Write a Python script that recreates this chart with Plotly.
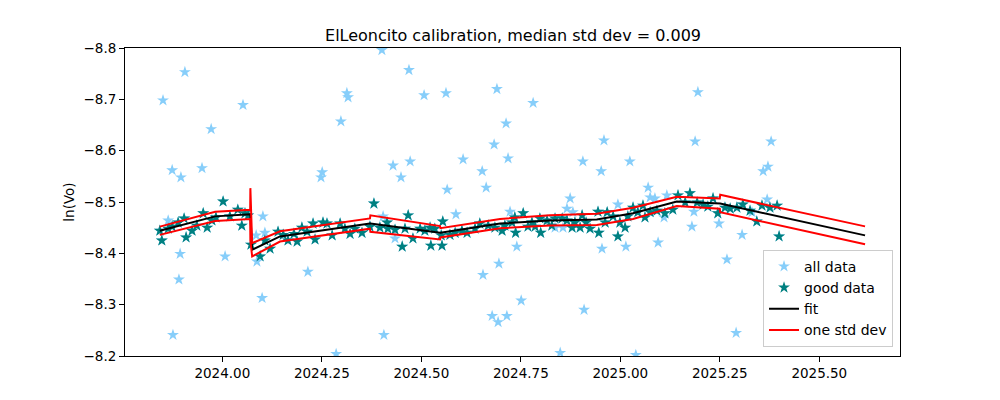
import plotly.graph_objects as go

# ---------------- data ----------------
good_t = [2023.843, 2023.848, 2023.864, 2023.874, 2023.889, 2023.904, 2023.909, 2023.924, 2023.936, 2023.952,
          2023.962, 2023.974, 2023.984, 2024.002, 2024.019, 2024.039, 2024.049, 2024.057, 2024.065, 2024.072,
          2024.095, 2024.107, 2024.120, 2024.140, 2024.153, 2024.165, 2024.180, 2024.188, 2024.200, 2024.213,
          2024.228, 2024.233, 2024.253, 2024.263, 2024.276, 2024.296, 2024.308, 2024.321, 2024.333, 2024.351,
          2024.371, 2024.381, 2024.396, 2024.414, 2024.416, 2024.434, 2024.452, 2024.459, 2024.467, 2024.479,
          2024.497, 2024.509, 2024.522, 2024.534, 2024.524, 2024.552, 2024.554, 2024.550, 2024.572, 2024.585,
          2024.602, 2024.615, 2024.635, 2024.647, 2024.668, 2024.685, 2024.703, 2024.710, 2024.728, 2024.735,
          2024.737, 2024.756, 2024.768, 2024.778, 2024.786, 2024.798, 2024.800, 2024.816, 2024.828, 2024.836,
          2024.854, 2024.866, 2024.879, 2024.886, 2024.899, 2024.904, 2024.914, 2024.924, 2024.944, 2024.946,
          2024.962, 2024.967, 2024.982, 2024.994, 2024.999, 2025.012, 2025.019, 2025.032, 2025.044, 2025.057,
          2025.062, 2025.075, 2025.092, 2025.112, 2025.132, 2025.145, 2025.163, 2025.175, 2025.193, 2025.208,
          2025.220, 2025.233, 2025.245, 2025.263, 2025.276, 2025.293, 2025.308, 2025.326, 2025.343, 2025.356,
          2025.376, 2025.394, 2025.399]
good_v = [-8.444, -8.425, -8.448, -8.452, -8.460, -8.468, -8.431, -8.444, -8.454, -8.478,
          -8.450, -8.464, -8.470, -8.501, -8.472, -8.485, -8.454, -8.478, -8.474, -8.417,
          -8.394, -8.425, -8.409, -8.442, -8.436, -8.425, -8.438, -8.423, -8.450, -8.442,
          -8.458, -8.427, -8.460, -8.458, -8.435, -8.458, -8.448, -8.438, -8.448, -8.440,
          -8.452, -8.497, -8.450, -8.460, -8.448, -8.446, -8.413, -8.448, -8.474, -8.429,
          -8.448, -8.444, -8.450, -8.448, -8.415, -8.415, -8.462, -8.435, -8.436, -8.440,
          -8.444, -8.440, -8.448, -8.458, -8.454, -8.450, -8.444, -8.454, -8.460, -8.470,
          -8.440, -8.478, -8.452, -8.460, -8.452, -8.468, -8.440, -8.464, -8.454, -8.468,
          -8.468, -8.464, -8.450, -8.460, -8.450, -8.474, -8.460, -8.448, -8.481, -8.440,
          -8.460, -8.480, -8.472, -8.433, -8.460, -8.450, -8.472, -8.489, -8.480, -8.493,
          -8.470, -8.480, -8.483, -8.478, -8.485, -8.513, -8.499, -8.517, -8.499, -8.495,
          -8.491, -8.507, -8.478, -8.489, -8.487, -8.489, -8.495, -8.483, -8.462, -8.493,
          -8.489, -8.493, -8.433]

outlier_t = [2023.851, 2023.906, 2024.052, 2023.972, 2024.401, 2024.469, 2024.313, 2024.316, 2024.507, 2024.562,
             2024.690, 2024.781, 2024.713, 2024.683, 2024.959, 2025.188, 2025.195, 2025.379, 2025.371, 2025.359,
             2025.369, 2024.298, 2023.874, 2023.896, 2023.949, 2024.248, 2024.251, 2024.429, 2024.472, 2024.449,
             2024.605, 2024.718, 2024.653, 2024.565, 2024.663, 2024.906, 2024.952, 2025.024, 2024.874, 2025.070,
             2025.075, 2025.087, 2025.117, 2023.864, 2023.894, 2023.891, 2023.876, 2024.007, 2024.102, 2024.085,
             2024.107, 2024.087, 2024.100, 2024.215, 2024.286, 2024.404, 2024.434, 2024.406, 2024.587, 2024.723,
             2024.740, 2024.695, 2024.655, 2024.751, 2024.678, 2024.693, 2024.715, 2024.849, 2024.909, 2025.039,
             2024.954, 2025.014, 2025.095, 2025.180, 2025.248, 2025.306, 2025.268, 2025.291, 2025.331, 2025.185,
             2025.110, 2024.866, 2024.881, 2024.836, 2024.856, 2024.994]
outlier_v = [-8.698, -8.753, -8.689, -8.642, -8.796, -8.757, -8.712, -8.704, -8.708, -8.712,
             -8.720, -8.693, -8.653, -8.612, -8.620, -8.618, -8.714, -8.618, -8.569, -8.560,
             -8.505, -8.657, -8.562, -8.548, -8.566, -8.548, -8.558, -8.571, -8.579, -8.548,
             -8.583, -8.585, -8.560, -8.524, -8.528, -8.579, -8.560, -8.579, -8.507, -8.528,
             -8.509, -8.507, -8.513, -8.464, -8.399, -8.349, -8.241, -8.394, -8.472, -8.435,
             -8.440, -8.384, -8.313, -8.364, -8.204, -8.472, -8.429, -8.241, -8.476, -8.481,
             -8.413, -8.380, -8.358, -8.308, -8.278, -8.266, -8.278, -8.206, -8.290, -8.202,
             -8.409, -8.413, -8.421, -8.452, -8.458, -8.436, -8.388, -8.245, -8.480, -8.481,
             -8.470, -8.487, -8.480, -8.450, -8.450, -8.495]

fit_t = [2023.843, 2023.982, 2024.070, 2024.0705, 2024.075, 2024.145, 2024.371, 2024.372, 2024.547, 2024.548,
         2024.698, 2024.823, 2024.941, 2025.032, 2025.142, 2025.250, 2025.251, 2025.615]
fit_v = [-8.444, -8.472, -8.476, -8.476, -8.407, -8.433, -8.458, -8.458, -8.440, -8.440,
         -8.458, -8.464, -8.466, -8.478, -8.501, -8.497, -8.497, -8.435]
fit_sd = [0.008, 0.009, 0.009, 0.051, 0.013, 0.010, 0.010, 0.016, 0.013, 0.009,
          0.009, 0.010, 0.011, 0.011, 0.009, 0.010, 0.017, 0.0175]

title_text = "ElLeoncito calibration, median std dev = 0.009"
x_ticks = [2024.00, 2024.25, 2024.50, 2024.75, 2025.00, 2025.25, 2025.50]
y_ticks = [-8.8, -8.7, -8.6, -8.5, -8.4, -8.3, -8.2]

# ---------------- figure ----------------
all_t = good_t + outlier_t
all_v = good_v + outlier_v
upper = [v + s for v, s in zip(fit_v, fit_sd)]
lower = [v - s for v, s in zip(fit_v, fit_sd)]

font = "DejaVu Sans"
fig = go.Figure()
fig.add_trace(go.Scatter(x=all_t, y=all_v, mode="markers", name="all data",
                         marker=dict(symbol="star", size=9, color="#87CEFA", line=dict(width=0))))
fig.add_trace(go.Scatter(x=good_t, y=good_v, mode="markers", name="good data",
                         marker=dict(symbol="star", size=9, color="#008080", line=dict(width=0))))
fig.add_trace(go.Scatter(x=fit_t, y=fit_v, mode="lines", name="fit",
                         line=dict(color="black", width=2)))
fig.add_trace(go.Scatter(x=fit_t + [None] + fit_t, y=upper + [None] + lower, mode="lines",
                         name="one std dev", line=dict(color="red", width=2), connectgaps=False))

fig.update_layout(
    width=1000, height=400,
    margin=dict(l=117, r=108, t=40, b=52),
    paper_bgcolor="white", plot_bgcolor="white",
    font=dict(family=font, size=13.5, color="black"),
    title=dict(text=title_text, x=0.505, xanchor="center", y=1 - 27 / 400, yanchor="middle",
               font=dict(family=font, size=16, color="black")),
    showlegend=True,
    legend=dict(x=0.991, y=0.03, xanchor="right", yanchor="bottom",
                bgcolor="rgba(255,255,255,0.8)", bordercolor="#cccccc", borderwidth=1,
                font=dict(family=font, size=14), tracegroupgap=0),
)
fig.update_xaxes(range=[2023.7555, 2025.7028], tickvals=x_ticks,
                 ticktext=[f"{v:.2f}" for v in x_ticks],
                 showgrid=False, zeroline=False, showline=True, linecolor="black", linewidth=1,
                 mirror=True, ticks="outside", ticklen=5, tickcolor="black",
                 tickfont=dict(family=font, size=13.5))
fig.update_yaxes(range=[-8.2, -8.8], tickvals=y_ticks,
                 ticktext=[f"{v:.1f}".replace("-", "\u2212") for v in y_ticks],
                 showgrid=False, zeroline=False, showline=True, linecolor="black", linewidth=1,
                 mirror=True, ticks="outside", ticklen=5, tickcolor="black",
                 tickfont=dict(family=font, size=13.5),
                 title=dict(text="ln(Vo)", standoff=5, font=dict(family=font, size=13.5)))

fig.write_html("out.html")
